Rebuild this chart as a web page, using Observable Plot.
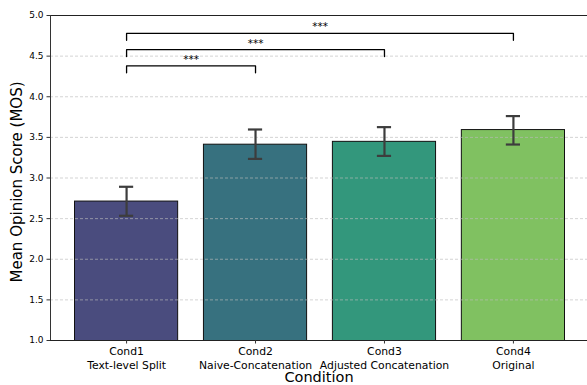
<!DOCTYPE html>
<html>
<head>
<meta charset="utf-8">
<script src="https://cdn.jsdelivr.net/npm/d3@7"></script>
<script src="https://cdn.jsdelivr.net/npm/@observablehq/plot@0.6"></script>
<style>
  html, body { margin: 0; padding: 0; background: #fff; }
  svg { display: block; }
</style>
</head>
<body>
<div id="chart"></div>
<script>
// ---- data ----
const conditions = ["Cond1", "Cond2", "Cond3", "Cond4"];
const subLabels = ["Text-level Split", "Naive-Concatenation", "Adjusted Concatenation", "Original"];
const mos = [2.71, 3.41, 3.445, 3.59];
const errLow = [2.535, 3.235, 3.272, 3.412];
const errHigh = [2.892, 3.597, 3.626, 3.762];
const barColors = ["#4a4c7e", "#37717f", "#33977c", "#80c161"];
const yTicks = [1.0, 1.5, 2.0, 2.5, 3.0, 3.5, 4.0, 4.5, 5.0];
const yDomain = [1, 5];
// significance brackets: [from index, to index, height, label]
const sigFrom = [0, 0, 0];
const sigTo = [1, 2, 3];
const sigHeight = [4.38, 4.58, 4.78];
const sigLabel = ["***", "***", "***"];

const barHalf = 0.4;
const capHalf = 0.055;
const drop = 0.085;

const bars = conditions.map((c, i) => ({
  i, c, v: mos[i], lo: errLow[i], hi: errHigh[i], color: barColors[i]
}));
const sig = sigFrom.map((a, k) => ({a, b: sigTo[k], h: sigHeight[k], label: sigLabel[k]}));
const bracketPts = sig.flatMap((s, k) => [
  {k, x: s.a, y: s.h - drop},
  {k, x: s.a, y: s.h},
  {k, x: s.b, y: s.h},
  {k, x: s.b, y: s.h - drop}
]);

const font = "DejaVu Sans, sans-serif";

const chart = Plot.plot({
  width: 587,
  height: 385,
  marginLeft: 50,
  marginRight: 0,
  marginTop: 15,
  marginBottom: 45,
  style: {fontFamily: font, background: "#fff", color: "#000"},
  x: {domain: [-0.59, 3.59], range: [50, 589]},
  y: {domain: yDomain},
  marks: [
    Plot.rect(bars, {
      x1: d => d.i - barHalf, x2: d => d.i + barHalf,
      y1: 0, y2: "v",
      fill: d => d.color, stroke: "#111", strokeWidth: 1, clip: true
    }),
    Plot.gridY(yTicks, {stroke: "#bbbbbb", strokeOpacity: 0.8, strokeDasharray: "3,2", strokeWidth: 0.8}),
    Plot.ruleX(bars, {x: "i", y1: "lo", y2: "hi", stroke: "#3d3d3d", strokeWidth: 2.2}),
    Plot.ruleY(bars, {y: "lo", x1: d => d.i - capHalf, x2: d => d.i + capHalf, stroke: "#3d3d3d", strokeWidth: 2.2}),
    Plot.ruleY(bars, {y: "hi", x1: d => d.i - capHalf, x2: d => d.i + capHalf, stroke: "#3d3d3d", strokeWidth: 2.2}),
    Plot.line(bracketPts, {x: "x", y: "y", z: "k", stroke: "#000", strokeWidth: 1.3, curve: "linear"}),
    Plot.text(sig, {
      x: d => (d.a + d.b) / 2, y: "h", text: "label",
      lineAnchor: "bottom", dy: -3, fontSize: 10.5, fill: "#000"
    }),
    // spines
    Plot.ruleY([yDomain[0]], {stroke: "#222", strokeWidth: 1}),
    Plot.ruleY([yDomain[1]], {stroke: "#222", strokeWidth: 1}),
    Plot.ruleX([-0.59], {stroke: "#333", strokeWidth: 1}),
    Plot.axisY({
      ticks: yTicks, tickFormat: d3.format(".1f"), tickSize: 3.5, tickPadding: 3.5,
      fontSize: 9, label: null, stroke: "#333"
    }),
    Plot.axisX({
      ticks: [0, 1, 2, 3], tickFormat: i => conditions[i] + "\n" + subLabels[i],
      tickSize: 3.5, tickPadding: 2, fontSize: 10.8, lineHeight: 1.22, label: null, stroke: "#333"
    }),
    Plot.text(["Condition"], {
      frameAnchor: "bottom", dy: 37, lineAnchor: "middle", fontSize: 14.5, fill: "#000"
    }),
    Plot.text(["Mean Opinion Score (MOS)"], {
      frameAnchor: "left", dx: -33, dy: 4, rotate: -90, lineAnchor: "middle", textAnchor: "middle", fontSize: 15, fill: "#000"
    })
  ]
});
document.getElementById("chart").appendChild(chart);
</script>
</body>
</html>
